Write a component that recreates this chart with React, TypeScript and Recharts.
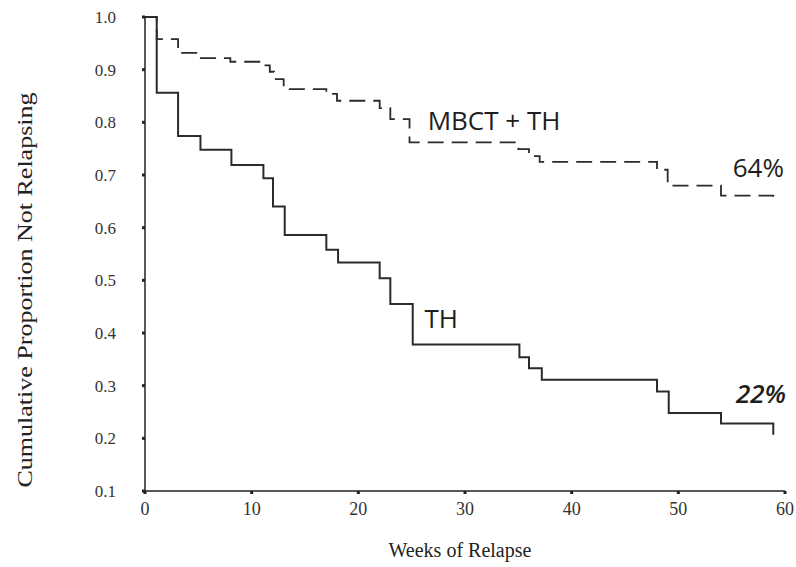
import { LineChart, Line, XAxis, YAxis, ReferenceDot } from 'recharts'

// weeks at which each step starts, and proportion not relapsing from there on
const mbctWeeks = [0, 1.1, 3.1, 5.1, 8, 10.9, 11.7, 12.1, 13, 17, 18, 22, 23, 24.8, 35, 36, 37, 48, 49, 54, 58.9]
const mbctProp = [1.0, 0.958, 0.932, 0.922, 0.915, 0.908, 0.896, 0.882, 0.863, 0.854, 0.841, 0.827, 0.806, 0.762, 0.749, 0.736, 0.725, 0.71, 0.68, 0.661, 0.647]

const thWeeks = [0, 1.1, 3.1, 5.2, 8.1, 11.1, 12, 13.1, 17, 18.1, 22, 23, 25.1, 35.1, 36, 37.2, 48, 49.1, 54, 58.9]
const thProp = [1.0, 0.856, 0.774, 0.748, 0.719, 0.694, 0.64, 0.586, 0.558, 0.534, 0.504, 0.455, 0.378, 0.354, 0.333, 0.311, 0.289, 0.248, 0.228, 0.207]

const xTicks = [0, 10, 20, 30, 40, 50, 60]
const yTicks = [0.1, 0.2, 0.3, 0.4, 0.5, 0.6, 0.7, 0.8, 0.9, 1.0]

const curveNotes = [
  { text: 'MBCT + TH', week: 26.5, prop: 0.805, italic: false },
  { text: '64%', week: 55.1, prop: 0.715, italic: false },
  { text: 'TH', week: 26.2, prop: 0.429, italic: false },
  { text: '22%', week: 55.4, prop: 0.287, italic: true },
]

const toRows = (weeks: number[], props: number[]) => weeks.map((week, i) => ({ week, p: props[i] }))

const serif = '"Liberation Serif", "DejaVu Serif", serif'
const ink = '#2b2b2b'

export default function App() {
  return (
    <div style={{ position: 'absolute', left: 0, top: 0, width: 796, height: 567, background: '#fff' }}>
      <LineChart width={796} height={567} margin={{ top: 17, right: 11, bottom: 46, left: 0 }}>
        <XAxis
          type="number"
          dataKey="week"
          domain={[0, 60]}
          ticks={xTicks}
          height={30}
          axisLine={{ stroke: '#222', strokeWidth: 1.5 }}
          tickLine={{ stroke: '#222', strokeWidth: 3 }}
          tickSize={3}
          tickMargin={8}
          tick={{ fill: '#333', fontSize: 18, fontFamily: serif }}
          label={({ viewBox }: any) => (
            <text x={viewBox.x + viewBox.width / 2 - 5} y={557} textAnchor="middle" fill="#222" fontSize={20} fontFamily={serif}>
              Weeks of Relapse
            </text>
          )}
        />
        <YAxis
          type="number"
          domain={[0.1, 1.0]}
          ticks={yTicks}
          width={145}
          axisLine={{ stroke: '#222', strokeWidth: 1.5 }}
          tickLine={{ stroke: '#222', strokeWidth: 3 }}
          tickSize={3}
          tickMargin={26}
          tickFormatter={(v: number) => v.toFixed(1)}
          tick={{ fill: '#333', fontSize: 17, fontFamily: serif }}
          label={({ viewBox }: any) => {
            const cy = viewBox.y + viewBox.height / 2 + 36
            return (
              <text
                x={25}
                y={cy}
                transform={`rotate(-90 25 ${cy})`}
                textAnchor="middle"
                dominantBaseline="central"
                fill="#222"
                fontSize={21}
                fontFamily={serif}
                textLength={395}
                lengthAdjust="spacingAndGlyphs"
              >
                Cumulative Proportion Not Relapsing
              </text>
            )
          }}
        />
        <Line
          data={toRows(mbctWeeks, mbctProp)}
          dataKey="p"
          type="stepAfter"
          stroke={ink}
          strokeWidth={1.8}
          strokeDasharray="16 8"
          dot={false}
          activeDot={false}
          isAnimationActive={false}
        />
        <Line
          data={toRows(thWeeks, thProp)}
          dataKey="p"
          type="stepAfter"
          stroke={ink}
          strokeWidth={2}
          dot={false}
          activeDot={false}
          isAnimationActive={false}
        />
        {curveNotes.map((n) => (
          <ReferenceDot
            key={n.text}
            x={n.week}
            y={n.prop}
            r={0}
            label={({ viewBox }: any) => (
              <text
                x={viewBox.x}
                y={viewBox.y}
                dominantBaseline="central"
                fill="#1e1e1e"
                fontSize={26}
                fontStyle={n.italic ? 'italic' : 'normal'}
                fontWeight={n.italic ? 600 : 400}
                fontFamily='"Open Sans", "Noto Sans", sans-serif'
              >
                {n.text}
              </text>
            )}
          />
        ))}
      </LineChart>
    </div>
  )
}
